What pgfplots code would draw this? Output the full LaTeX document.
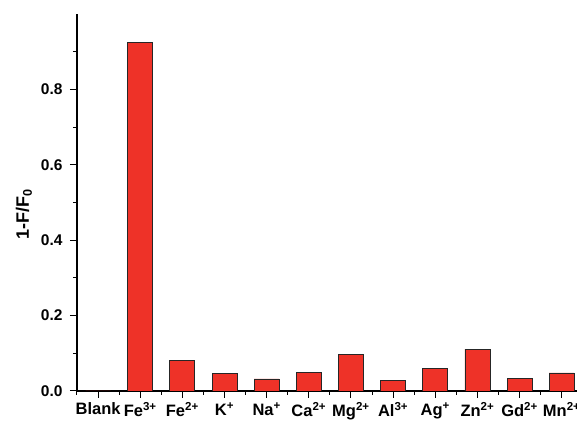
\documentclass[border=0pt]{standalone}
\usepackage{fontspec}
\setmainfont{Liberation Sans}
\usepackage{pgfplots}
\pgfplotsset{compat=1.18}
\definecolor{barred}{RGB}{238,50,40}
\begin{document}
\begin{tikzpicture}
\begin{axis}[
  at={(0pt,0pt)}, anchor=south west,
  scale only axis, width=505.8pt, height=377pt,
  xmin=-0.5, xmax=11.5, ymin=0, ymax=1.0,
  axis x line*=bottom, axis y line*=left,
  axis line style={line width=1.1pt, black},
  tick align=outside,
  major tick length=7pt, minor tick length=4pt,
  every tick/.style={black, line width=1pt},
  xtick={0,...,11},
  minor xtick={-0.5,0.5,...,11.5},
  xticklabels={Blank, Fe\textsuperscript{3+}, Fe\textsuperscript{2+}, K\textsuperscript{+}, Na\textsuperscript{+}, Ca\textsuperscript{2+}, Mg\textsuperscript{2+}, Al\textsuperscript{3+}, Ag\textsuperscript{+}, Zn\textsuperscript{2+}, Gd\textsuperscript{2+}, Mn\textsuperscript{2+}},
  ytick={0,0.2,0.4,0.6,0.8},
  minor ytick={0.1,0.3,0.5,0.7,0.9},
  /pgf/number format/assume math mode=true,
  yticklabel style={/pgf/number format/fixed, /pgf/number format/fixed zerofill, /pgf/number format/precision=1, font=\fontsize{15.5}{18}\selectfont\bfseries, xshift=-4pt},
  xticklabel style={font=\fontsize{16.5}{19}\selectfont\bfseries, yshift=-1pt},
  ylabel={\textbf{1-F/F\textsubscript{0}}},
  ylabel style={font=\fontsize{18}{21}\selectfont\bfseries, at={(axis description cs:-0.105,0.47)}, anchor=center},
]
\addplot[ybar, bar width=25pt, fill=barred, draw=black!85, line width=0.8pt]
coordinates {(0,0) (1,0.924) (2,0.082) (3,0.047) (4,0.032) (5,0.050) (6,0.098) (7,0.027) (8,0.059) (9,0.111) (10,0.034) (11,0.048)};
\end{axis}
\pgfresetboundingbox
\path[use as bounding box] (-77pt,-31pt) rectangle (500pt,391pt);
\end{tikzpicture}
\end{document}
